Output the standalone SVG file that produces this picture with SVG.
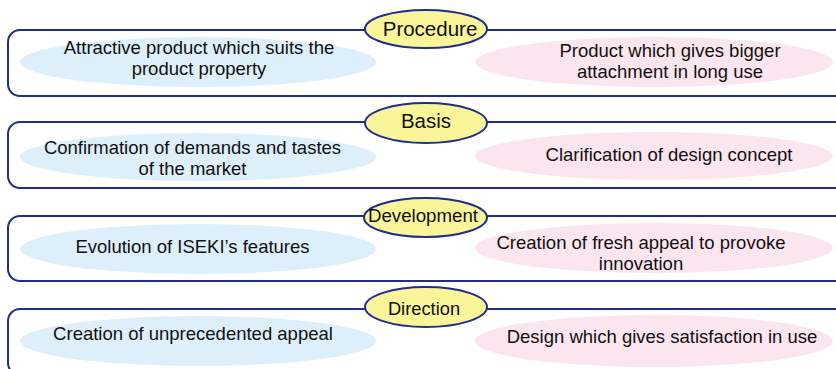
<svg xmlns="http://www.w3.org/2000/svg" width="836" height="369" viewBox="0 0 836 369">
<style>
.box{fill:#ffffff;stroke:#1f2d8c;stroke-width:2}
.lab{fill:#fbf59a;stroke:#1f2d8c;stroke-width:2}
.blue{fill:#ddeffa}
.pink{fill:#fbe5ee}
text{font-family:"Liberation Sans",Arial,sans-serif;fill:#111111;text-anchor:middle}
.t{font-size:18.5px}
</style>
<rect width="836" height="369" fill="#ffffff"/>
<g id="row1">
<rect class="box" x="8" y="30" width="840" height="66" rx="12"/>
<ellipse class="blue" cx="198" cy="62" rx="178" ry="25"/>
<ellipse class="pink" cx="654" cy="62" rx="179" ry="25"/>
<text class="t" x="199" y="54">Attractive product which suits the</text>
<text class="t" x="199" y="75">product property</text>
<text class="t" x="670" y="57">Product which gives bigger</text>
<text class="t" x="670" y="78">attachment in long use</text>
<ellipse class="lab" cx="426" cy="29" rx="61" ry="19"/>
<text x="430" y="36" font-size="20.5">Procedure</text>
</g>
<g id="row2">
<rect class="box" x="8" y="122" width="840" height="66" rx="12"/>
<ellipse class="blue" cx="198" cy="157" rx="178" ry="24"/>
<ellipse class="pink" cx="654" cy="156" rx="179" ry="24"/>
<text class="t" x="192.5" y="154">Confirmation of demands and tastes</text>
<text class="t" x="192.5" y="175">of the market</text>
<text class="t" x="669" y="161">Clarification of design concept</text>
<ellipse class="lab" cx="426" cy="123" rx="61" ry="20"/>
<text x="426" y="128" font-size="20.5">Basis</text>
</g>
<g id="row3">
<rect class="box" x="8" y="216" width="840" height="65" rx="12"/>
<ellipse class="blue" cx="198" cy="249" rx="178" ry="25"/>
<ellipse class="pink" cx="654" cy="248" rx="179" ry="25"/>
<text class="t" x="192.5" y="252.5">Evolution of ISEKI’s features</text>
<text class="t" x="641" y="249">Creation of fresh appeal to provoke</text>
<text class="t" x="641" y="270">innovation</text>
<ellipse class="lab" cx="425.5" cy="217.5" rx="61.5" ry="19.5"/>
<text x="423" y="222" font-size="18.7">Development</text>
</g>
<g id="row4">
<rect class="box" x="8" y="309" width="840" height="66" rx="12"/>
<ellipse class="blue" cx="198" cy="341" rx="178" ry="25"/>
<ellipse class="pink" cx="654" cy="341" rx="179" ry="26"/>
<text class="t" x="193" y="340">Creation of unprecedented appeal</text>
<text class="t" x="662" y="343">Design which gives satisfaction in use</text>
<ellipse class="lab" cx="426" cy="307" rx="61" ry="20"/>
<text x="424" y="315" font-size="18.3">Direction</text>
</g>
<g id="connectors"></g>
</svg>
